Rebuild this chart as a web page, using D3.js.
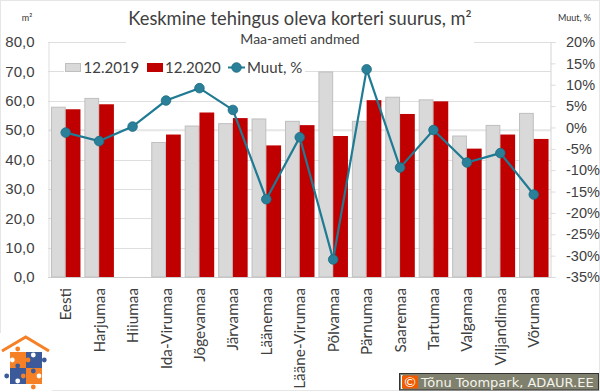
<!DOCTYPE html>
<html><head><meta charset="utf-8">
<script src="https://cdn.jsdelivr.net/npm/d3@7"></script>
<style>html,body{margin:0;padding:0;background:#fff}svg{display:block;font-family:Lato,sans-serif}</style>
</head><body><svg id="c" width="600" height="392"></svg>
<script>
const categories=["Eesti","Harjumaa","Hiiumaa","Ida-Virumaa","Jõgevamaa","Järvamaa","Läänemaa","Lääne-Virumaa","Põlvamaa","Pärnumaa","Saaremaa","Tartumaa","Valgamaa","Viljandimaa","Võrumaa"];
const s2019=[57.8,60.8,null,45.8,51.4,52.2,53.8,53,69.8,53,61.2,60.3,48,51.6,55.7];
const s2020=[57.1,58.8,null,48.5,56,54.1,44.8,51.7,48,60.2,55.5,59.8,43.7,48.5,47];
const change=[-1.2,-3.2,0.2,6.3,9.2,4.1,-16.8,-2.3,-30.9,13.6,-9.4,-0.6,-8.2,-6,-15.7];
const leftTicks=[0,10,20,30,40,50,60,70,80];
const rightTicks=[20,15,10,5,0,-5,-10,-15,-20,-25,-30,-35];

const svg=d3.select("#c");
const X0=49,X1=550.5,YT=42,YB=277;
const x=d3.scaleBand().domain(categories).range([X0,X1]).paddingInner(0.117).paddingOuter(0.0585);
const y=d3.scaleLinear().domain([0,80]).range([YB,YT]);
const yr=d3.scaleLinear().domain([-35,20]).range([YB,YT]);
const inner=d3.scaleBand().domain(["a","b"]).range([0,x.bandwidth()]);
const comma=v=>v.toFixed(1).replace(".",",");

// image frame
svg.append("rect").attr("x",0.5).attr("y",0.5).attr("width",599).attr("height",390).attr("fill","#fff").attr("stroke","#e6e6e6");

// grid
svg.append("g").selectAll("line").data(leftTicks).join("line")
 .attr("x1",X0-1).attr("x2",551).attr("y1",d=>Math.round(y(d))+.5).attr("y2",d=>Math.round(y(d))+.5)
 .attr("stroke",d=>d===0?"#cfcfcf":"#dedede").attr("stroke-width",1);
// secondary axis band, seen beside the 50 gridline
svg.append("line").attr("x1",X0).attr("x2",551).attr("y1",y(50)).attr("y2",y(50)).attr("stroke","#e6e6e6").attr("stroke-width",2);
// title and legend boxes cover the top gridlines
svg.append("rect").attr("x",126).attr("y",36).attr("width",348).attr("height",12).attr("fill","#fff");
svg.append("rect").attr("x",64).attr("y",60).attr("width",241).attr("height",15).attr("fill","#fff");

// left axis
const la=svg.append("g").attr("transform",`translate(${X0-.5},0)`).call(d3.axisLeft(y).tickValues(leftTicks).tickFormat(comma).tickSize(0).tickPadding(14));
la.select(".domain").attr("stroke","#dedede");
la.selectAll("text").attr("font-size",15).attr("fill","#404040");
// right axis
const ra=svg.append("g").attr("transform",`translate(550.5,0)`).call(d3.axisRight(yr).tickValues(rightTicks).tickFormat(d=>d+"%").tickSize(5).tickPadding(10.5));
ra.select(".domain").attr("stroke","#d4d4d4");
ra.selectAll("line").attr("stroke","#dcdcdc");
ra.selectAll("text").attr("font-size",14.5).attr("fill","#404040");

// bars
const g=svg.append("g");
const rows=categories.map((c,i)=>({c,a:s2019[i],b:s2020[i]})).filter(d=>d.a!==null);
g.selectAll(".a").data(rows).join("rect").attr("class","a")
 .attr("x",d=>x(d.c)+inner("a")+.5).attr("width",inner.bandwidth()-1)
 .attr("y",d=>y(d.a)).attr("height",d=>YB-y(d.a))
 .attr("fill","#d9d9d9").attr("stroke","#bfbfbf").attr("stroke-width",1);
g.selectAll(".b").data(rows).join("rect").attr("class","b")
 .attr("x",d=>x(d.c)+inner("b")).attr("width",inner.bandwidth())
 .attr("y",d=>y(d.b)).attr("height",d=>YB-y(d.b))
 .attr("fill","#c00000");

// line
const px=c=>x(c)+x.bandwidth()/2;
const pts=categories.map((c,i)=>({c,v:change[i]}));
svg.append("path").datum(pts).attr("fill","none").attr("stroke","#1f7a93").attr("stroke-width",2.2)
 .attr("d",d3.line().x(d=>px(d.c)).y(d=>yr(d.v)));
svg.append("g").selectAll("circle").data(pts).join("circle")
 .attr("cx",d=>px(d.c)).attr("cy",d=>yr(d.v)).attr("r",4.8)
 .attr("fill","#2b8099").attr("stroke","#1a6a80").attr("stroke-width",.8);

// logo
const lo=svg.append("g");
lo.append("rect").attr("x",0).attr("y",333).attr("width",52).attr("height",58).attr("fill","#fff");
lo.append("path").attr("d","M2,351 L25.7,337 L49,351").attr("fill","none").attr("stroke","#f58025").attr("stroke-width",3);
[[10,352,"#f58025"],[26,352,"#3c5a99"],[10,368,"#3c5a99"],[26,368,"#f58025"]].forEach(d=>
 lo.append("rect").attr("x",d[0]).attr("y",d[1]).attr("width",16).attr("height",16).attr("fill",d[2]));
[[17.7,349,"#f58025"],[44.3,360,"#3c5a99"],[6.7,376,"#3c5a99"],[33.3,387,"#f58025"],[28,360,"#f58025"],[23.3,376,"#f58025"],[17.7,366,"#3c5a99"],[33.3,371,"#3c5a99"],[12.3,360,"#fff"],[39,376,"#fff"],[17.7,381,"#fff"],[33.3,355,"#fff"]].forEach(d=>
 lo.append("circle").attr("cx",d[0]).attr("cy",d[1]).attr("r",2.4).attr("fill",d[2]));

// category labels
svg.append("g").selectAll("text").data(categories).join("text")
 .attr("transform",d=>`translate(${px(d)+5.5},288) rotate(-90)`)
 .attr("text-anchor","end").attr("font-size",15.3).attr("fill","#404040").text(d=>d);

// titles
svg.append("text").attr("x",300).attr("y",24.5).attr("text-anchor","middle").attr("font-size",18.3).attr("fill","#404040").text("Keskmine tehingus oleva korteri suurus, m²");
svg.append("text").attr("x",300).attr("y",44).attr("text-anchor","middle").attr("font-size",14).attr("fill","#404040").text("Maa-ameti andmed");
svg.append("text").attr("x",27).attr("y",20.5).attr("text-anchor","middle").attr("font-size",9).attr("fill","#333").text("m²");
svg.append("text").attr("x",574.5).attr("y",20.5).attr("text-anchor","middle").attr("font-size",9).attr("fill","#333").text("Muut, %");

// legend
const lg=svg.append("g");
lg.append("rect").attr("x",65.5).attr("y",63.5).attr("width",15).attr("height",8).attr("fill","#d9d9d9").attr("stroke","#bfbfbf");
lg.append("text").attr("x",83.5).attr("y",72.5).attr("font-size",15).attr("fill","#404040").text("12.2019");
lg.append("rect").attr("x",147).attr("y",63).attr("width",16).attr("height",9).attr("fill","#c00000");
lg.append("text").attr("x",165).attr("y",72.5).attr("font-size",15).attr("fill","#404040").text("12.2020");
lg.append("line").attr("x1",228).attr("x2",245).attr("y1",67.5).attr("y2",67.5).attr("stroke","#1f7a93").attr("stroke-width",2);
lg.append("circle").attr("cx",236.5).attr("cy",67.5).attr("r",4.8).attr("fill","#2b8099").attr("stroke","#1a6a80").attr("stroke-width",.8);
lg.append("text").attr("x",247).attr("y",72.5).attr("font-size",15).attr("fill","#404040").text("Muut, %");

// credit
svg.append("rect").attr("x",399.5).attr("y",373.5).attr("width",199).attr("height",16.5).attr("fill","#80806e").attr("stroke","#333").attr("stroke-width",1);
svg.append("rect").attr("x",401).attr("y",375).attr("width",2).attr("height",14).attr("fill","#fff");
svg.append("rect").attr("x",402).attr("y",375.5).attr("width",16).attr("height",13).attr("fill","#f05a00");
svg.append("text").attr("x",410).attr("y",387).attr("text-anchor","middle").attr("font-size",14).attr("fill","#fff").text("©");
svg.append("text").attr("x",421).attr("y",386.5).attr("font-family","'DejaVu Sans',sans-serif").attr("font-size",13).attr("fill","#f4f4ec").text("Tõnu Toompark, ADAUR.EE");
</script></body></html>
